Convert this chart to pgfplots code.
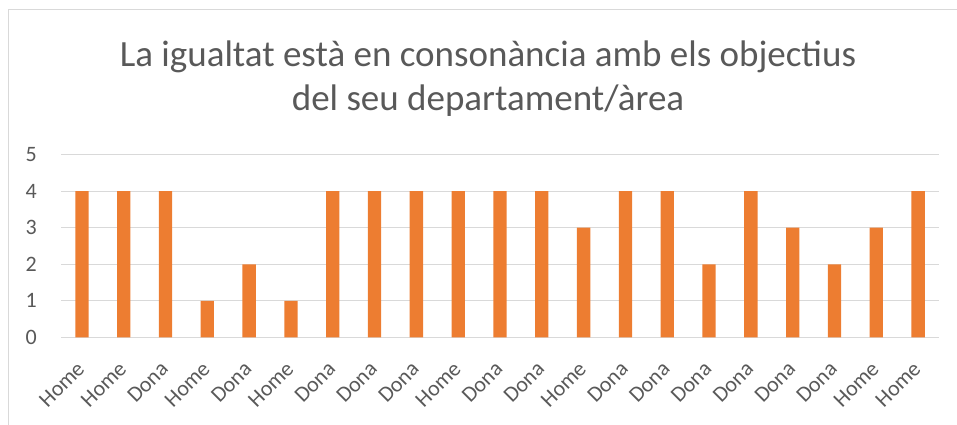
\documentclass[border=0pt]{standalone}
\usepackage{pgfplots}
\pgfplotsset{compat=1.18}
\usepackage{fontspec}
\setmainfont{Carlito}
\definecolor{barorange}{HTML}{ED7D31}
\definecolor{gridgrey}{HTML}{D9D9D9}
\definecolor{txtgrey}{HTML}{595959}
\definecolor{bordergrey}{HTML}{D9D9D9}
\begin{document}
\begin{tikzpicture}[x=1bp,y=1bp]
\useasboundingbox (0,0) rectangle (957,424);
\draw[bordergrey, line width=1bp] (8,-5) -- (8,414) -- (965,414);
\node[txtgrey, align=center, font=\fontsize{37bp}{44bp}\selectfont, anchor=base] at (488,314) {La igualtat està en consonància amb els objectius\\del seu departament/àrea};
\begin{axis}[
  at={(61bp,86.7bp)}, anchor=south west,
  width=878bp, height=182.6bp, scale only axis,
  xmin=-0.5, xmax=20.5, ymin=0, ymax=5,
  ytick={0,1,2,3,4,5},
  xtick={0,...,20},
  xticklabels={Home,Home,Dona,Home,Dona,Home,Dona,Dona,Dona,Home,Dona,Dona,Home,Dona,Dona,Dona,Dona,Dona,Dona,Home,Home},
  major tick length=0pt,
  axis line style={draw=none},
  ymajorgrids, grid style={gridgrey, line width=1.2bp},
  /pgf/number format/assume math mode=true,
  tick label style={txtgrey, font=\fontsize{22bp}{26bp}\selectfont},
  yticklabel style={anchor=east, inner sep=0pt, xshift=-24bp},
  xticklabel style={xshift=-1bp, yshift=-28bp, rotate=45, anchor=east, inner sep=0pt},
  clip=false,
]
\addplot[ybar, bar width=13.3bp, fill=barorange, draw=none] coordinates {
(0,4) (1,4) (2,4) (3,1) (4,2) (5,1) (6,4) (7,4) (8,4) (9,4) (10,4)
(11,4) (12,3) (13,4) (14,4) (15,2) (16,4) (17,3) (18,2) (19,3) (20,4)
};
\end{axis}
\end{tikzpicture}
\end{document}
